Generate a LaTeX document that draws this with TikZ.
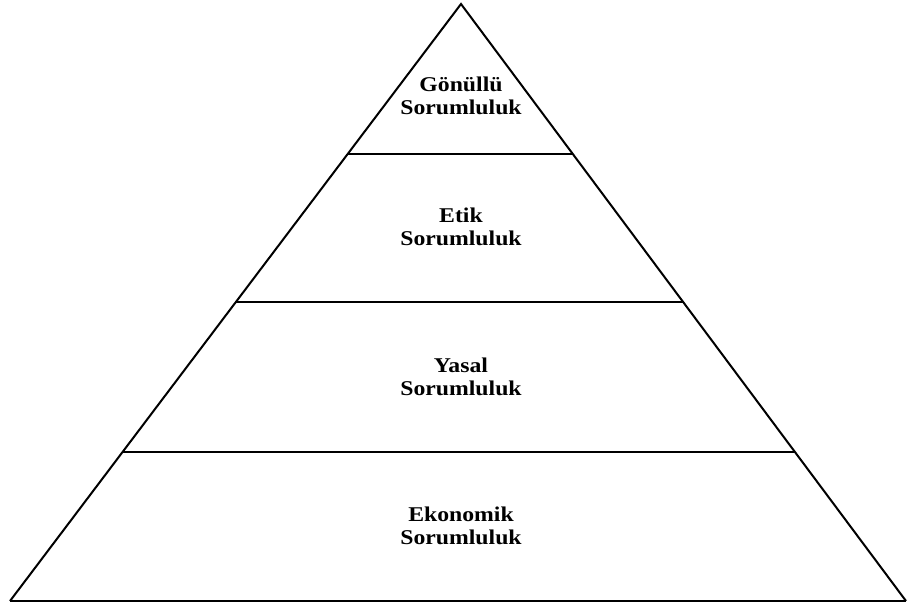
\documentclass[tikz,border=0pt]{standalone}
\usepackage{fontspec}
\setmainfont{Liberation Serif}
\usetikzlibrary{calc}
\begin{document}
\begin{tikzpicture}[x=1pt,y=-1pt,
  edge/.style={line width=2pt,line join=miter},
  tier/.style={line width=1.8pt},
  label/.style={align=center,font=\fontsize{21}{23.5}\selectfont\bfseries,
    inner sep=0pt,xscale=1.13}]
\useasboundingbox (0,0) rectangle (909,604);
% outer triangle
\coordinate (apex) at (461,4);
\coordinate (bl) at (10,601);
\coordinate (br) at (906,601);
\draw[edge] (bl) -- (apex) -- (br);
\draw[line width=2.6pt] (bl) -- (br);
% tier boundaries
\foreach \t/\n in {0.2513/a,0.4992/b,0.7504/c}{
  \coordinate (l\n) at ($(apex)!\t!(bl)$);
  \coordinate (r\n) at ($(apex)!\t!(br)$);
  \draw[tier] (l\n) -- (r\n);
}
% tier labels
\node[label] (t1) at (461,96) {Gönüllü\\Sorumluluk};
\node[label] (t2) at (461,227) {Etik\\Sorumluluk};
\node[label] (t3) at (461,377) {Yasal\\Sorumluluk};
\node[label] (t4) at (461,526) {Ekonomik\\Sorumluluk};
\end{tikzpicture}
\end{document}
